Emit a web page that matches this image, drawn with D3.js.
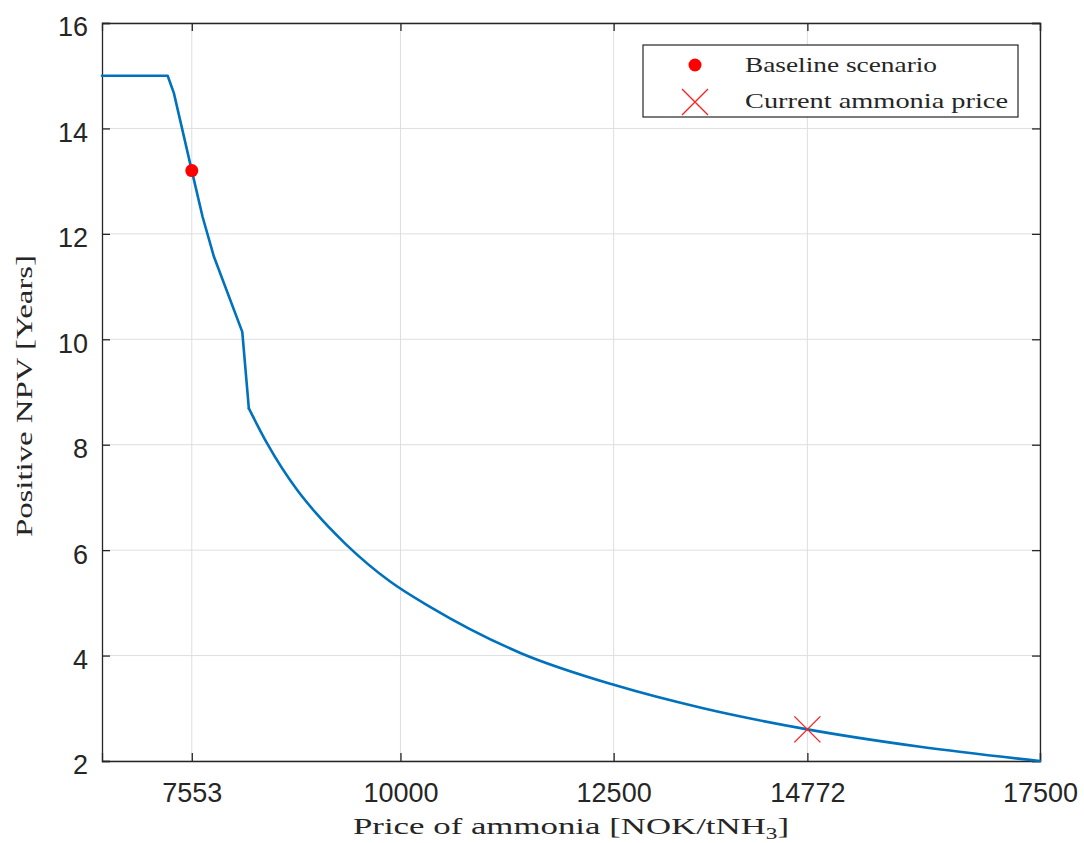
<!DOCTYPE html>
<html>
<head>
<meta charset="utf-8">
<script src="https://cdn.jsdelivr.net/npm/d3@7"></script>
<style>
  body { margin: 0; background: #fff; }
  .tick-label { font-family: "Liberation Sans", Arial, sans-serif; font-size: 27px; fill: #262626; }
  .axis-title, .legend-text { font-family: "Liberation Serif", "DejaVu Serif", serif; fill: #262626; }
</style>
</head>
<body>
<div class="canvas"></div>
<script>
"use strict";

// curve
const price = [6500, 7270, 7343, 7553, 7680, 7812, 8145, 8222, 8438, 8789, 9000, 9355, 9883, 10352, 11406, 12512, 13550, 14772, 16094, 17500];
const years = [15, 15, 14.67, 13.2, 12.32, 11.57, 10.14, 8.69, 8.02, 7.14, 6.72, 6.12, 5.40, 4.92, 4.05, 3.44, 3.0, 2.6, 2.27, 2.0];
const kinkIndex = 7; // last sharp corner, smooth decay after it

const xTicks = [7553, 10000, 12500, 14772, 17500];
const yTicks = [2, 4, 6, 8, 10, 12, 14, 16];

const baseline = { price: 7553, years: 13.2 };
const current = { price: 14772, years: 2.6 };
const legendLabels = ["Baseline scenario", "Current ammonia price"];

const width = 1084, height = 843;
const margin = { top: 23, right: 44, bottom: 82, left: 102 };
const innerW = width - margin.left - margin.right;
const innerH = height - margin.top - margin.bottom;

const svg = d3.select(".canvas").append("svg")
  .attr("width", width).attr("height", height);
const graph = svg.append("g")
  .attr("transform", `translate(${margin.left}, ${margin.top})`);

const x = d3.scaleLinear().domain([6500, 17500]).range([0, innerW]);
const y = d3.scaleLinear().domain([2, 16]).range([innerH, 0]);

// grid
graph.append("g").selectAll("line").data(xTicks).join("line")
  .attr("x1", d => x(d)).attr("x2", d => x(d))
  .attr("y1", 0).attr("y2", innerH)
  .attr("stroke", "#dedede").attr("stroke-width", 1);
graph.append("g").selectAll("line").data(yTicks).join("line")
  .attr("x1", 0).attr("x2", innerW)
  .attr("y1", d => y(d)).attr("y2", d => y(d))
  .attr("stroke", "#dedede").attr("stroke-width", 1);

// axes, ticks pointing in, box on
const tickLen = 8;
const xAxisB = d3.axisBottom(x).tickValues(xTicks).tickSize(-tickLen).tickPadding(22).tickFormat(d3.format("d"));
const xAxisT = d3.axisTop(x).tickValues(xTicks).tickSize(-tickLen).tickFormat("");
const yAxisL = d3.axisLeft(y).tickValues(yTicks).tickSize(-tickLen).tickPadding(14);
const yAxisR = d3.axisRight(y).tickValues(yTicks).tickSize(-tickLen).tickFormat("");

const axes = [
  graph.append("g").attr("transform", `translate(0, ${innerH})`).call(xAxisB),
  graph.append("g").call(xAxisT),
  graph.append("g").call(yAxisL),
  graph.append("g").attr("transform", `translate(${innerW}, 0)`).call(yAxisR)
];
axes.forEach(a => {
  a.select(".domain").attr("stroke", "#262626").attr("stroke-width", 1.3);
  a.selectAll(".tick line").attr("stroke", "#262626").attr("stroke-width", 1.3);
  a.selectAll(".tick text").attr("class", "tick-label").attr("font-size", null).attr("font-family", null);
});
axes[2].selectAll(".tick text").attr("dy", "0.48em");

// curve: straight pieces up to the last kink, smooth tail after it
const lineSharp = d3.line().x(d => x(d[0])).y(d => y(d[1]));
const lineSmooth = d3.line().x(d => x(d[0])).y(d => y(d[1])).curve(d3.curveMonotoneX);
const pts = price.map((p, i) => [p, years[i]]);
[lineSharp(pts.slice(0, kinkIndex + 1)), lineSmooth(pts.slice(kinkIndex))].forEach(d => {
  graph.append("path")
    .attr("d", d)
    .attr("fill", "none")
    .attr("stroke", "#0072BD")
    .attr("stroke-width", 2.6)
    .attr("stroke-linejoin", "round")
    .attr("stroke-linecap", "round");
});

// markers
const drawCross = (g, cx, cy, s) => {
  g.append("path")
    .attr("d", `M${cx - s},${cy - s}L${cx + s},${cy + s}M${cx - s},${cy + s}L${cx + s},${cy - s}`)
    .attr("stroke", "#ff2020").attr("stroke-width", 1.4).attr("fill", "none");
};
graph.append("circle")
  .attr("cx", x(baseline.price)).attr("cy", y(baseline.years))
  .attr("r", 6.5).attr("fill", "#ff0000");
drawCross(graph, x(current.price), y(current.years), 13);

// legend
const legend = svg.append("g").attr("transform", "translate(643, 45)");
legend.append("rect")
  .attr("width", 375).attr("height", 72)
  .attr("fill", "#fff").attr("stroke", "#262626").attr("stroke-width", 1.2);
legend.append("circle").attr("cx", 52).attr("cy", 20).attr("r", 6.5).attr("fill", "#ff0000");
drawCross(legend, 52, 57, 13);
legend.selectAll("text.legend-text").data(legendLabels).join("text")
  .attr("class", "legend-text")
  .attr("x", 102)
  .attr("y", (d, i) => 27 + i * 36)
  .attr("font-size", 21)
  .attr("textLength", (d, i) => i === 0 ? 192 : 263)
  .attr("lengthAdjust", "spacingAndGlyphs")
  .text(d => d);

// axis titles
const xTitle = svg.append("text")
  .attr("class", "axis-title")
  .attr("x", margin.left + innerW / 2)
  .attr("y", 834)
  .attr("text-anchor", "middle")
  .attr("font-size", 24)
  .attr("textLength", 436)
  .attr("lengthAdjust", "spacingAndGlyphs");
xTitle.append("tspan").text("Price of ammonia [NOK/tNH");
xTitle.append("tspan").attr("font-size", 16).attr("dy", 5).text("3");
xTitle.append("tspan").attr("dy", -5).text("]");

svg.append("text")
  .attr("class", "axis-title")
  .attr("transform", "translate(32, 396) rotate(-90)")
  .attr("text-anchor", "middle")
  .attr("font-size", 24)
  .attr("textLength", 282)
  .attr("lengthAdjust", "spacingAndGlyphs")
  .text("Positive NPV [Years]");
</script>
</body>
</html>
